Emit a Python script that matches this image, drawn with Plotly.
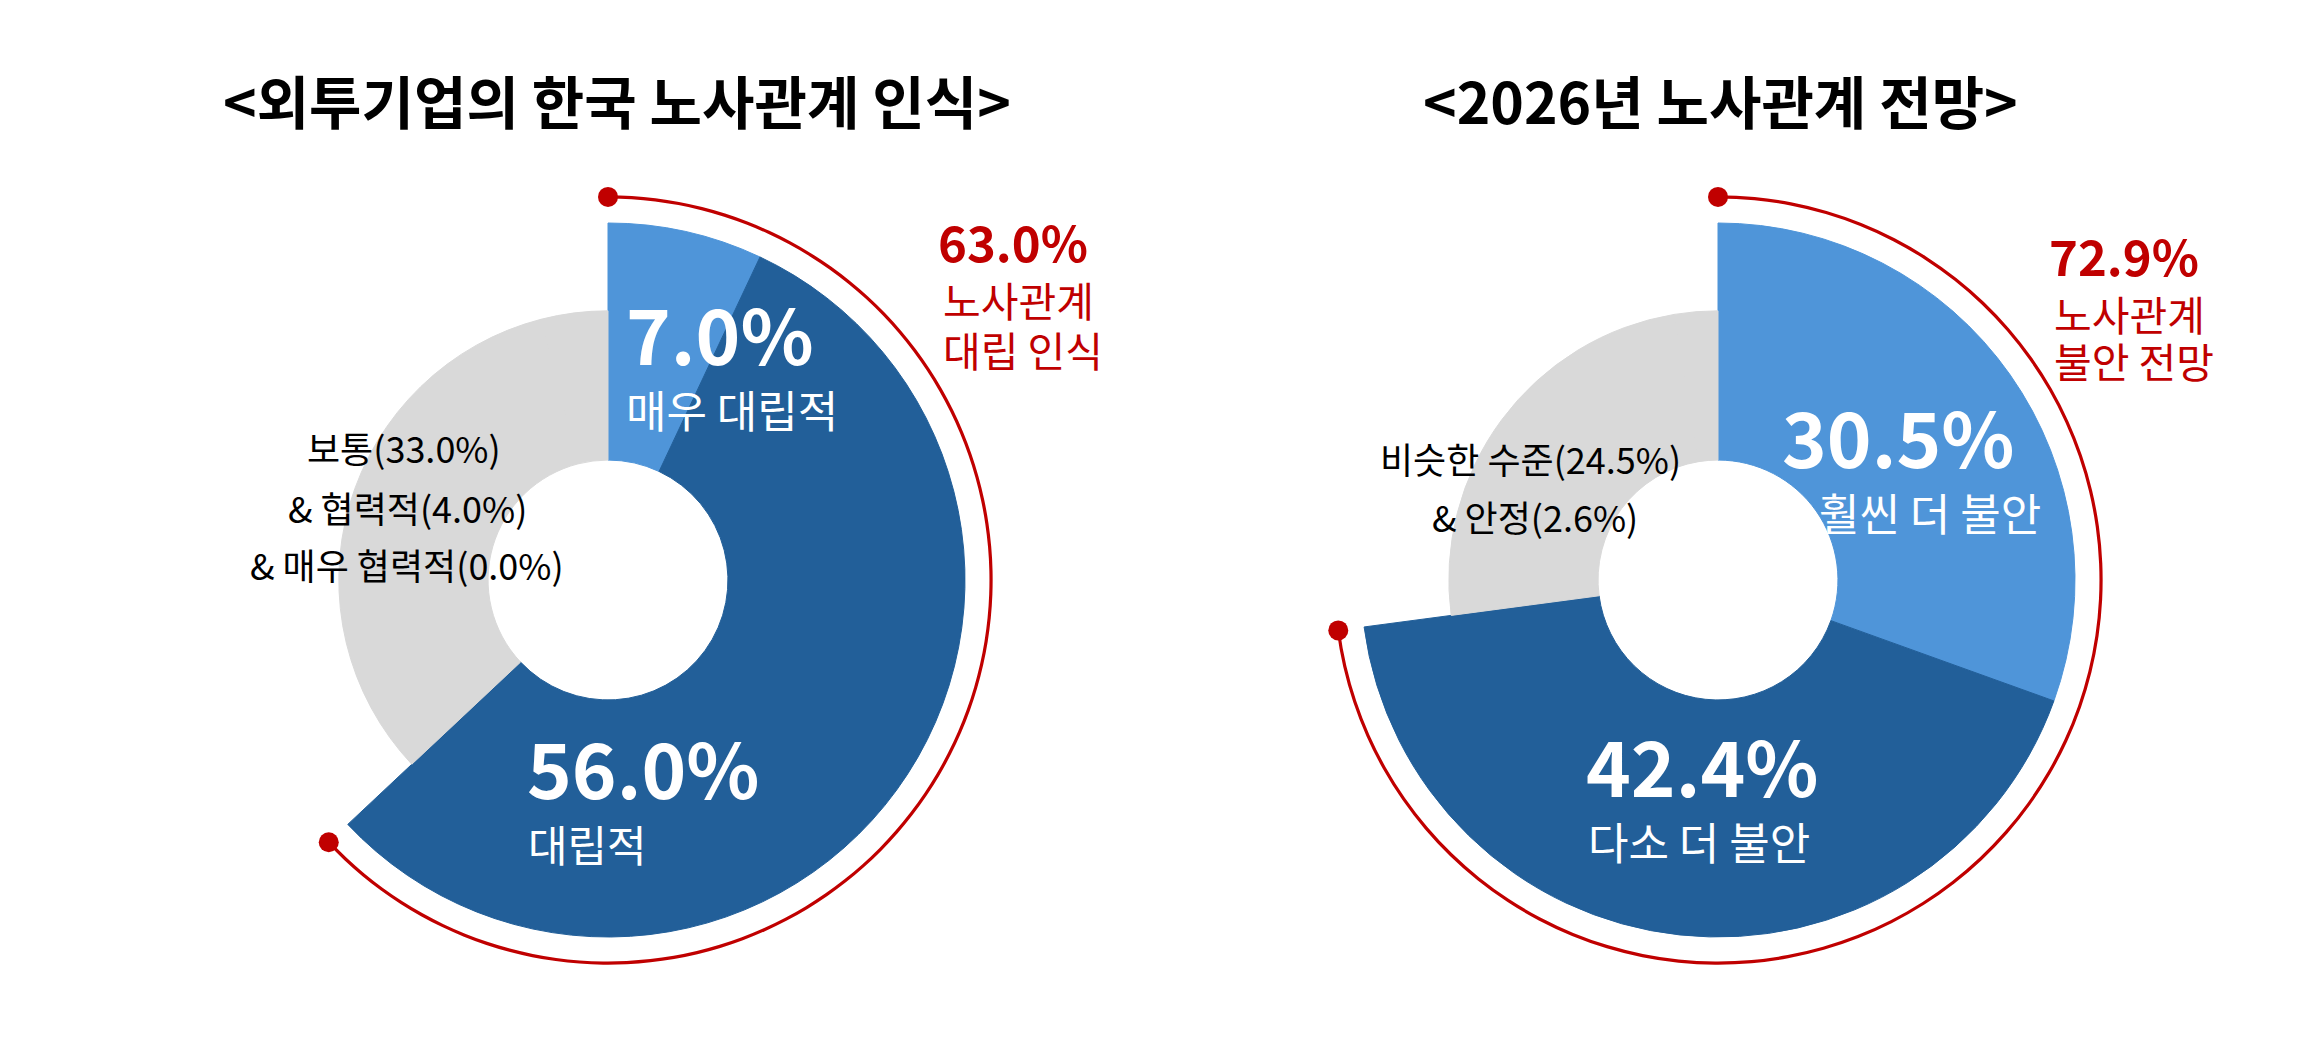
import numpy as np
import plotly.graph_objects as go

# ---- data ----
left_title = "&lt;외투기업의 한국 노사관계 인식&gt;"
left_labels = ["매우 대립적", "대립적", "보통", "협력적", "매우 협력적"]
left_values = [7.0, 56.0, 33.0, 4.0, 0.0]
left_summary = ["노사관계", "대립 인식"]

right_title = "&lt;2026년 노사관계 전망&gt;"
right_labels = ["훨씬 더 불안", "다소 더 불안", "비슷한 수준", "안정"]
right_values = [30.5, 42.4, 24.5, 2.6]
right_summary = ["노사관계", "불안 전망"]

# ---- style ----
W, H = 2314, 1038
PAD = 8                      # page body margin around the plot div
FW, FH = W - 2 * PAD, H - 2 * PAD
FONT = "Noto Sans CJK KR"
LIGHT = "#4F95D9"
DARK = "#225F99"
GRAY = "#D9D9D9"
RED = "#C00000"

UNIT = 3.57          # px per radial unit
HOLE, GRAY_R, HI_R, ARC_R, R_MAX = 33.6, 75.4, 100, 107.3, 112
CY = 580
LEFT_CX, RIGHT_CX = 608, 1718


def px(x, y):
    # screen pixel -> paper fraction
    return (x - PAD) / FW, 1 - (y - PAD) / FH


def domain(cx):
    r = R_MAX * UNIT
    x0, y1 = px(cx - r, CY - r)
    x1, y0 = px(cx + r, CY + r)
    return dict(x=[x0, x1], y=[y0, y1])


def add_donut(fig, values, colors, n_hi, sub):
    vals = np.array(values, dtype=float)
    ang = vals / vals.sum() * 360
    ends = np.cumsum(ang)
    mids = ends - ang / 2
    outer = np.where(np.arange(len(vals)) < n_hi, HI_R, GRAY_R)
    fig.add_trace(go.Barpolar(
        theta=mids, width=ang, base=HOLE, r=outer - HOLE,
        marker=dict(color=colors, line=dict(width=1, color=colors)),
        subplot=sub, hoverinfo="skip", showlegend=False))
    arc = ends[n_hi - 1]
    # red arc around highlighted share
    fig.add_trace(go.Barpolar(
        theta=[arc / 2], width=[arc], base=ARC_R - 0.45, r=[0.9],
        marker=dict(color=RED, line=dict(width=0)),
        subplot=sub, hoverinfo="skip", showlegend=False))
    fig.add_trace(go.Scatterpolar(
        theta=[0, arc], r=[ARC_R, ARC_R], mode="markers",
        marker=dict(color=RED, size=20),
        subplot=sub, hoverinfo="skip", showlegend=False))
    return vals[:n_hi].sum()


fig = go.Figure()
left_total = add_donut(fig, left_values, [LIGHT, DARK, GRAY, GRAY, GRAY], 2, "polar")
right_total = add_donut(fig, right_values, [LIGHT, DARK, GRAY, GRAY], 2, "polar2")


def note(text, x, y, size, color, anchor="left", bold=False, lift=0.08):
    ax, ay = px(x, y - lift * size)
    if bold:
        text = "<b>" + text + "</b>"
    fig.add_annotation(x=ax, y=ay, xref="paper", yref="paper", text=text,
                       showarrow=False, xanchor=anchor, yanchor="middle",
                       font=dict(family=FONT, size=size, color=color))


# titles
note(left_title, 617, 99, 57, "black", "center", True, lift=0)
note(right_title, 1720, 99, 57, "black", "center", True, lift=0)

# left chart labels
note(f"{left_values[0]:.1f}%", 624, 338, 76, "white", bold=True)
note(left_labels[0], 624, 413, 44, "white")
note(f"{left_values[1]:.1f}%", 525, 772, 76, "white", bold=True)
note(left_labels[1], 526, 846, 43, "white")
note(f"{left_total:.1f}%", 936, 244, 49, RED, bold=True)
note(left_summary[0], 941, 302, 41, RED)
note(left_summary[1], 941, 352, 41, RED)
note(f"{left_labels[2]}({left_values[2]:.1f}%)", 404, 450, 36, "black", "center")
note(f"&amp; {left_labels[3]}({left_values[3]:.1f}%)", 407, 510, 36, "black", "center")
note(f"&amp; {left_labels[4]}({left_values[4]:.1f}%)", 407, 567, 36, "black", "center")

# right chart labels
note(f"{right_values[0]:.1f}%", 1780, 441, 76, "white", bold=True)
note(right_labels[0], 1817, 516, 44, "white")
note(f"{right_values[1]:.1f}%", 1584, 770, 76, "white", bold=True)
note(right_labels[1], 1586, 845, 44, "white")
note(f"{right_total:.1f}%", 2047, 258, 49, RED, bold=True)
note(right_summary[0], 2052, 316, 41, RED)
note(right_summary[1], 2052, 363, 41, RED)
note(f"{right_labels[2]}({right_values[2]:.1f}%)", 1530, 461, 36, "black", "center")
note(f"&amp; {right_labels[3]}({right_values[3]:.1f}%)", 1535, 519, 36, "black", "center")

polar_style = dict(
    bgcolor="white",
    radialaxis=dict(visible=False, range=[0, R_MAX]),
    angularaxis=dict(visible=False, direction="clockwise", rotation=90),
)
fig.update_layout(
    width=FW, height=FH,
    margin=dict(l=0, r=0, t=0, b=0),
    paper_bgcolor="white", plot_bgcolor="white",
    showlegend=False,
    polar=dict(domain=domain(LEFT_CX), **polar_style),
    polar2=dict(domain=domain(RIGHT_CX), **polar_style),
    font=dict(family=FONT),
)

fig.write_html("out.html")
